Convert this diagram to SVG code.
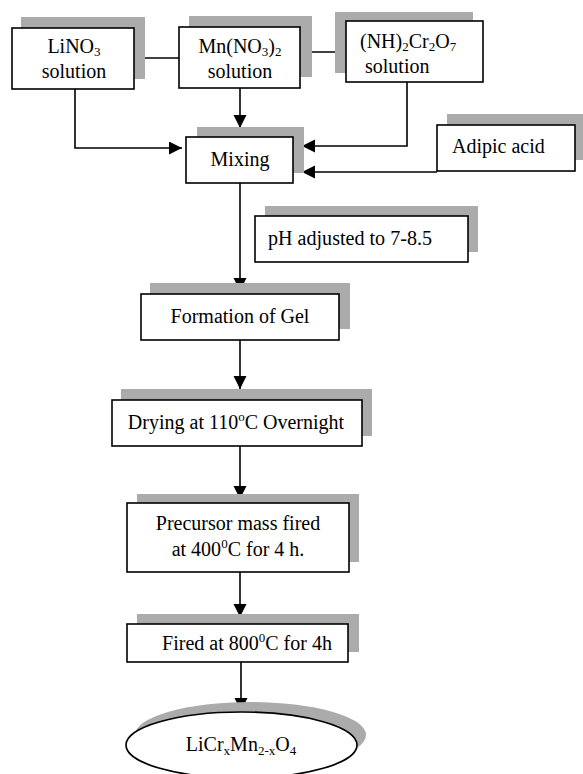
<svg xmlns="http://www.w3.org/2000/svg" width="583" height="774" viewBox="0 0 583 774">
<defs>
<style>
.sh{fill:#ababab;stroke:none}
.bx{fill:#fff;stroke:#000;stroke-width:1.6}
.t{font-family:"Liberation Serif","Times New Roman",serif;font-size:20px;fill:#000}
.c{text-anchor:middle}
.cn{fill:none;stroke:#000;stroke-width:1.6}
</style>
<marker id="ah" markerUnits="userSpaceOnUse" markerWidth="14" markerHeight="14" viewBox="0 0 14 14" refX="13" refY="6.5" orient="auto">
<path d="M0,0 L13,6.5 L0,13 z" fill="#000"/>
</marker>
</defs>
<rect width="583" height="774" fill="#fff"/>

<g id="connectors">
<line class="cn" x1="134" y1="58" x2="179" y2="58"/>
<line class="cn" x1="300" y1="52" x2="346" y2="52"/>
<path class="cn" d="M240,88 V128" marker-end="url(#ah)"/>
<path class="cn" d="M75,89 V148 H182" marker-end="url(#ah)"/>
<path class="cn" d="M407,82 V146 H302" marker-end="url(#ah)"/>
<path class="cn" d="M437,172 H302" marker-end="url(#ah)"/>
<path class="cn" d="M240,183 V291" marker-end="url(#ah)"/>
<path class="cn" d="M240,340 V389" marker-end="url(#ah)"/>
<path class="cn" d="M240,446 V499" marker-end="url(#ah)"/>
<path class="cn" d="M240,572 V617" marker-end="url(#ah)"/>
<path class="cn" d="M241,662 V711" marker-end="url(#ah)"/>
</g>

<g id="lino3">
<rect class="sh" x="21" y="17" width="124" height="62"/>
<rect class="bx" x="12" y="28" width="122" height="61"/>
<text class="t c" x="74" y="53">LiNO<tspan font-size="13" dy="3">3</tspan></text>
<text class="t c" x="74" y="78">solution</text>
</g>

<g id="mnno3">
<rect class="sh" x="189" y="16" width="123" height="61"/>
<rect class="bx" x="179" y="27" width="121" height="61"/>
<text class="t c" x="240" y="53">Mn(NO<tspan font-size="13" dy="3">3</tspan><tspan dy="-3">)</tspan><tspan font-size="13" dy="3">2</tspan></text>
<text class="t c" x="240" y="78">solution</text>
</g>

<g id="dichromate">
<rect class="sh" x="335" y="12" width="138" height="61"/>
<rect class="bx" x="346" y="21" width="137" height="61"/>
<text class="t" x="360" y="48">(NH)<tspan font-size="13" dy="3">2</tspan><tspan dy="-3">Cr</tspan><tspan font-size="13" dy="3">2</tspan><tspan dy="-3">O</tspan><tspan font-size="13" dy="3">7</tspan></text>
<text class="t" x="365" y="73">solution</text>
</g>

<g id="mixing">
<rect class="sh" x="197" y="127" width="107" height="46"/>
<rect class="bx" x="186" y="137" width="107" height="46"/>
<text class="t c" x="240" y="166">Mixing</text>
</g>

<g id="adipic">
<rect class="sh" x="447" y="114" width="140" height="46"/>
<rect class="bx" x="437" y="125" width="138" height="46"/>
<text class="t" x="452" y="153">Adipic acid</text>
</g>

<g id="ph">
<rect class="sh" x="265" y="206" width="213" height="46"/>
<rect class="bx" x="255" y="216" width="213" height="46"/>
<text class="t" x="268" y="245" textLength="164" lengthAdjust="spacingAndGlyphs">pH adjusted to 7-8.5</text>
</g>

<g id="gel">
<rect class="sh" x="150" y="283" width="200" height="46"/>
<rect class="bx" x="141" y="294" width="198" height="46"/>
<text class="t c" x="240" y="323">Formation of Gel</text>
</g>

<g id="drying">
<rect class="sh" x="121" y="389" width="251" height="47"/>
<rect class="bx" x="112" y="400" width="250" height="46"/>
<text class="t c" x="236" y="429">Drying at 110<tspan font-size="13" dy="-8">o</tspan><tspan dy="8">C Overnight</tspan></text>
</g>

<g id="precursor">
<rect class="sh" x="137" y="494" width="222" height="68"/>
<rect class="bx" x="127" y="503" width="222" height="69"/>
<text class="t c" x="238" y="530">Precursor mass fired</text>
<text class="t c" x="238" y="556">at 400<tspan font-size="13" dy="-8">0</tspan><tspan dy="8">C for 4 h.</tspan></text>
</g>

<g id="fired">
<rect class="sh" x="137" y="614" width="222" height="38"/>
<rect class="bx" x="127" y="624" width="221" height="38"/>
<text class="t c" x="247" y="650">Fired at 800<tspan font-size="13" dy="-8">0</tspan><tspan dy="8">C for 4h</tspan></text>
</g>

<g id="product">
<ellipse class="sh" cx="250.5" cy="735" rx="115.5" ry="33"/>
<ellipse class="bx" cx="241.5" cy="745" rx="115.5" ry="33"/>
<text class="t c" x="241" y="751">LiCr<tspan font-size="13" dy="4">x</tspan><tspan dy="-4">Mn</tspan><tspan font-size="13" dy="4">2-x</tspan><tspan dy="-4">O</tspan><tspan font-size="13" dy="4">4</tspan></text>
</g>
</svg>
